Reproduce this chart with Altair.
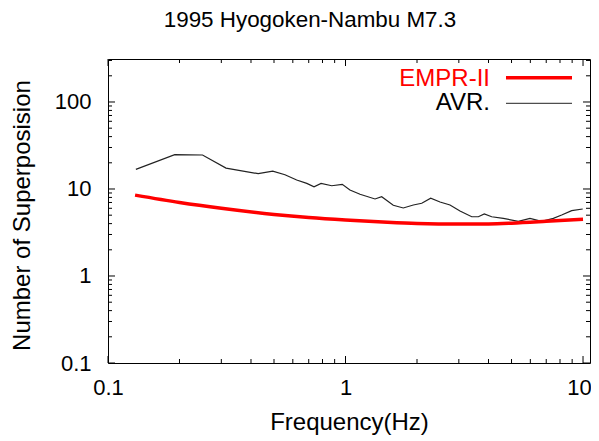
import altair as alt
import pandas as pd

# EMPR-II curve
emp_f = [0.13, 0.2, 0.3, 0.5, 0.7, 1.0, 1.5, 2.0, 3.0, 4.0, 5.0, 7.0, 10.0]
emp_v = [8.5, 7.0, 6.0, 5.1, 4.7, 4.4, 4.15, 4.02, 3.95, 3.97, 4.05, 4.25, 4.5]

# AVR. curve
avr_f = [0.131, 0.191, 0.250, 0.314, 0.429, 0.494, 0.556, 0.623, 0.687, 0.737,
         0.789, 0.875, 0.969, 1.044, 1.151, 1.331, 1.42, 1.589, 1.751, 1.93,
         2.094, 2.284, 2.50, 2.754, 3.034, 3.40, 3.625, 3.84, 4.126, 4.617,
         5.34, 5.98, 6.70, 7.50, 8.13, 8.96, 9.97]
avr_v = [16.8, 24.8, 24.6, 17.4, 15.0, 16.0, 14.6, 12.7, 11.6, 10.6,
         11.6, 10.9, 11.3, 9.74, 8.69, 7.68, 8.16, 6.50, 6.05, 6.55,
         6.85, 7.82, 7.09, 6.55, 5.59, 4.80, 4.80, 5.16, 4.80, 4.60,
         4.25, 4.60, 4.25, 4.60, 5.02, 5.63, 5.89]

x_major = [0.1, 1, 10]
x_minor = [0.2, 0.3, 0.4, 0.5, 0.6, 0.7, 0.8, 0.9, 2, 3, 4, 5, 6, 7, 8, 9]
y_major = [0.1, 1, 10, 100]
y_minor = [0.2, 0.3, 0.4, 0.5, 0.6, 0.7, 0.8, 0.9, 2, 3, 4, 5, 6, 7, 8, 9,
           20, 30, 40, 50, 60, 70, 80, 90, 200, 300]

legend_labels = ["EMPR-II", "AVR."]

W, H = 482, 304
FONT = "Liberation Sans"
XDOM = [0.1, 10.7]
YDOM = [0.1, 312]

xs = alt.Scale(type="log", domain=XDOM, nice=False)
ys = alt.Scale(type="log", domain=YDOM, nice=False)

emp_df = pd.DataFrame({"f": emp_f, "v": emp_v})
avr_df = pd.DataFrame({"f": avr_f, "v": avr_v})

x_axis = alt.Axis(values=x_major, format="~g", tickSize=0, domain=False, grid=False,
                  labelFontSize=22, labelFont=FONT, labelColor="black", labelPadding=14,
                  labelFlush=False, labelOverlap=False,
                  labelOffset={"condition": {"test": "datum.value >= 10", "value": -4}, "value": 0},
                  title="Frequency(Hz)", titleFontSize=24, titleFont=FONT,
                  titleFontWeight="normal", titleColor="black", titleY=47)
y_axis = alt.Axis(values=y_major, format="~g", tickSize=0, domain=False, grid=False,
                  labelFontSize=22, labelFont=FONT, labelColor="black", labelPadding=17,
                  labelFlush=False, labelOverlap=False,
                  title="Number of Superposision", titleFontSize=24,
                  titleFont=FONT, titleFontWeight="normal", titleColor="black",
                  titleX=-74, titleY=156)

X = alt.X("f:Q", scale=xs, axis=x_axis, title="Frequency(Hz)")
Y = alt.Y("v:Q", scale=ys, axis=y_axis, title="Number of Superposision")

emp = alt.Chart(emp_df).mark_line(color="#ff0000", strokeWidth=3.5, interpolate="monotone").encode(
    x=X, y=Y)
avr = alt.Chart(avr_df).mark_line(color="#222222", strokeWidth=1.2).encode(x=X, y=Y)

layers = [avr, emp]

def xticks(vals, length):
    d = pd.DataFrame({"f": vals})
    bottom = alt.Chart(d).mark_rule(color="black", strokeWidth=1).encode(
        x=X, y=alt.value(H), y2=alt.value(H - length))
    top = alt.Chart(d).mark_rule(color="black", strokeWidth=1).encode(
        x=X, y=alt.value(0), y2=alt.value(length))
    return [bottom, top]

def yticks(vals, length):
    d = pd.DataFrame({"v": vals})
    left = alt.Chart(d).mark_rule(color="black", strokeWidth=1).encode(
        y=Y, x=alt.value(0), x2=alt.value(length))
    right = alt.Chart(d).mark_rule(color="black", strokeWidth=1).encode(
        y=Y, x=alt.value(W), x2=alt.value(W - length))
    return [left, right]

layers += xticks(x_major, 7) + xticks(x_minor, 4) + yticks(y_major, 7) + yticks(y_minor, 4)

# legend
lab1 = alt.Chart(pd.DataFrame({"t": [legend_labels[0]]})).mark_text(
    align="right", baseline="middle", fontSize=24, font=FONT, color="#ff0000").encode(
    text="t:N", x=alt.value(382), y=alt.value(20))
lab2 = alt.Chart(pd.DataFrame({"t": [legend_labels[1]]})).mark_text(
    align="right", baseline="middle", fontSize=24, font=FONT, color="black").encode(
    text="t:N", x=alt.value(382), y=alt.value(44))
sw1 = alt.Chart(pd.DataFrame({"t": [legend_labels[0]]})).mark_rule(color="#ff0000", strokeWidth=3.5).encode(
    x=alt.value(398), x2=alt.value(464), y=alt.value(18.7))
sw2 = alt.Chart(pd.DataFrame({"t": [legend_labels[1]]})).mark_rule(color="#222222", strokeWidth=1).encode(
    x=alt.value(398), x2=alt.value(464), y=alt.value(44.3))
layers += [lab1, lab2, sw1, sw2]

chart = alt.layer(*layers).properties(
    width=W, height=H,
    title=alt.TitleParams("1995 Hyogoken-Nambu M7.3", fontSize=22.4, font=FONT,
                          fontWeight="normal", color="black", anchor="middle", dx=-39, offset=27),
    autosize=alt.AutoSizeParams(type="none"),
    padding={"left": 100, "top": 51, "right": 1, "bottom": 76},
    background="white",
).configure_view(stroke="black", strokeWidth=1)

chart.save("out.html", embed_options={"renderer": "svg", "actions": False})
